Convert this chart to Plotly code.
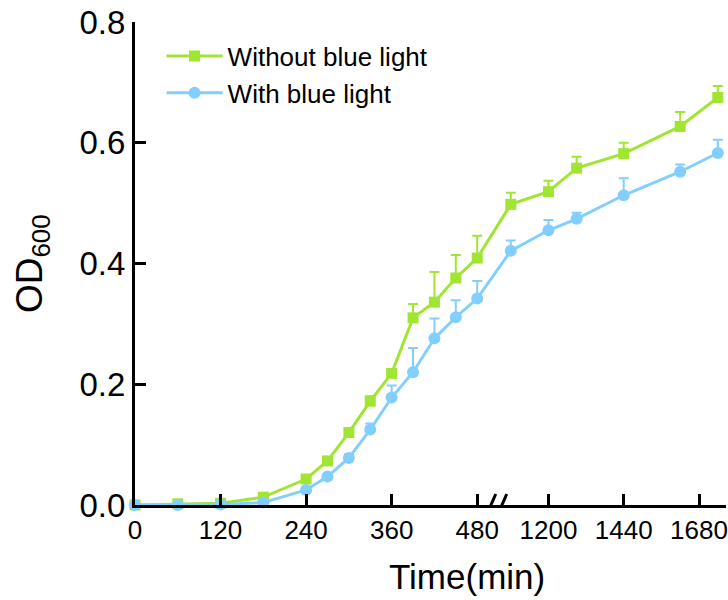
import plotly.graph_objects as go

# Sampling times (min) and OD600 readings
time_min = [0, 60, 120, 180, 240, 270, 300, 330, 360, 390, 420, 450, 480,
            1080, 1200, 1290, 1440, 1620, 1740]

od_dark = [0.000, 0.002, 0.003, 0.013, 0.043, 0.073, 0.120, 0.172, 0.218,
           0.310, 0.336, 0.376, 0.409, 0.498, 0.519, 0.558, 0.582, 0.627, 0.675]
err_dark = [0.000, 0.002, 0.002, 0.003, 0.004, 0.005, 0.006, 0.008, 0.006,
            0.023, 0.050, 0.038, 0.037, 0.019, 0.018, 0.019, 0.018, 0.024, 0.019]

od_blue = [0.000, 0.000, 0.001, 0.004, 0.025, 0.047, 0.078, 0.125, 0.178,
           0.220, 0.276, 0.311, 0.342, 0.421, 0.455, 0.474, 0.513, 0.552, 0.583]
err_blue = [0.000, 0.001, 0.001, 0.002, 0.003, 0.004, 0.006, 0.010, 0.020,
            0.040, 0.033, 0.028, 0.029, 0.017, 0.017, 0.010, 0.028, 0.012, 0.022]

x_ticks = [0, 120, 240, 360, 480, 1200, 1440, 1680]
y_ticks = [0.0, 0.2, 0.4, 0.6, 0.8]

series_names = ["Without blue light", "With blue light"]

# Broken time axis: 0-480 min at full scale, then a gap, then a compressed segment
U_BREAK = 506          # axis position of the break
T_RESUME = 1032        # time at which the right segment starts
RIGHT_SCALE = 0.44     # compression of the right segment
U_MAX = 829


def axis_pos(t):
    if t <= 480:
        return t
    return U_BREAK + (t - T_RESUME) * RIGHT_SCALE


GREEN = "#A0E532"
BLUE = "#82CFFF"
FONT = "Liberation Sans, Arial, sans-serif"

xs = [axis_pos(t) for t in time_min]

fig = go.Figure()
for name, vals, errs, color, symbol, size in [
    (series_names[0], od_dark, err_dark, GREEN, "square", 11),
    (series_names[1], od_blue, err_blue, BLUE, "circle", 12),
]:
    fig.add_trace(go.Scatter(
        x=xs, y=vals, name=name, mode="lines+markers",
        line=dict(color=color, width=3),
        marker=dict(color=color, symbol=symbol, size=size, line=dict(width=0)),
        error_y=dict(type="data", symmetric=False, array=errs,
                     arrayminus=[0] * len(errs), color=color,
                     thickness=2, width=5),
        cliponaxis=False,
    ))

# "//" break marks on the time axis
shapes = [
    dict(type="rect", xref="x", yref="y", xsizemode="pixel", ysizemode="pixel",
         xanchor=U_BREAK, yanchor=0, x0=-5, x1=5, y0=-4, y1=3,
         fillcolor="white", line=dict(width=0), layer="above"),
]
for dx in (-5, 6):
    shapes.append(dict(type="line", xref="x", yref="y", xsizemode="pixel",
                       ysizemode="pixel", xanchor=U_BREAK, yanchor=0,
                       x0=dx - 5, x1=dx + 5, y0=-12, y1=11,
                       line=dict(color="black", width=3), layer="above"))

fig.update_layout(
    width=728, height=600, autosize=False,
    margin=dict(l=135, r=0, t=22, b=95),
    plot_bgcolor="white", paper_bgcolor="white",
    font=dict(family=FONT, color="black"),
    showlegend=True,
    legend=dict(x=0.045, y=0.978, xanchor="left", yanchor="top",
                font=dict(size=26, family=FONT), bgcolor="rgba(0,0,0,0)",
                itemwidth=56, tracegroupgap=0),
    shapes=shapes,
    annotations=[
        dict(text="Time(min)", xref="paper", yref="paper", x=0.5616, y=-0.149,
             xanchor="center", yanchor="middle", showarrow=False,
             font=dict(size=35, family=FONT)),
        dict(text="OD<sub>600</sub>", xref="paper", yref="paper", x=-0.175, y=0.5,
             xanchor="center", yanchor="middle", showarrow=False, textangle=-90,
             font=dict(size=37, family=FONT)),
    ],
)

fig.update_xaxes(
    range=[0, U_MAX], tickvals=[axis_pos(t) for t in x_ticks],
    ticktext=[str(t) for t in x_ticks],
    ticks="inside", ticklen=11, tickwidth=3, tickcolor="black",
    showline=True, linewidth=3, linecolor="black",
    showgrid=False, zeroline=False, ticklabeloverflow="allow",
    tickfont=dict(size=26, family=FONT),
)
fig.update_yaxes(
    range=[0, 0.8], tickvals=y_ticks, tickformat=".1f",
    ticks="inside", ticklen=11, tickwidth=3, tickcolor="black",
    showline=True, linewidth=3, linecolor="black",
    showgrid=False, zeroline=False,
    tickfont=dict(size=33, family=FONT),
)

fig.write_html("out.html")
